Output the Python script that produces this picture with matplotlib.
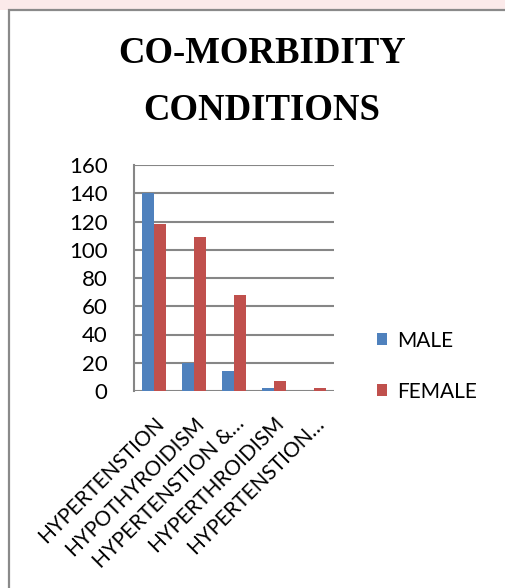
import matplotlib.pyplot as plt
from matplotlib.patches import Rectangle
import numpy as np

categories = ["HYPERTENSTION", "HYPOTHYROIDISM", "HYPERTENSTION &\u2026",
              "HYPERTHROIDISM", "HYPERTENSTION\u2026"]
male = [140, 20, 14, 2, 0]
female = [118, 109, 68, 7, 2]
y_ticks = [0, 20, 40, 60, 80, 100, 120, 140, 160]

W, H = 505, 588
fig = plt.figure(figsize=(W / 100, H / 100), dpi=100)
fig.patch.set_facecolor("white")

# faint band above the chart frame, and the frame itself
fig.patches.append(Rectangle((0, 1 - 10 / H), 1, 10 / H, transform=fig.transFigure,
                             facecolor="#fbeaea", edgecolor="none", zorder=-2))
fig.patches.append(Rectangle((9 / W, -0.1), 1.2, 1.1 - 10 / H, transform=fig.transFigure,
                             facecolor="white", edgecolor="#8a8a8a", linewidth=1.6, zorder=-1))

ax = fig.add_axes([134 / W, 1 - 391 / H, 200 / W, 226 / H])
ax.set_zorder(2)
ax.set_facecolor("none")
x = np.arange(len(categories))
bw = 0.29
ax.bar(x - bw / 2, male, bw, color="#4F81BD", label="MALE", zorder=3)
ax.bar(x + bw / 2, female, bw, color="#C0504D", label="FEMALE", zorder=3)

ax.set_xlim(-0.5, len(categories) - 0.5)
ax.set_ylim(0, 160)
ax.set_yticks(y_ticks)
ax.set_axisbelow(True)
ax.yaxis.grid(True, color="#868686", linewidth=1.5)
for s in ["top", "right", "bottom"]:
    ax.spines[s].set_visible(False)
ax.spines["left"].set_color("#868686")
ax.spines["left"].set_linewidth(1.5)
ax.tick_params(axis="y", length=0, pad=19, labelsize=16)
ax.tick_params(axis="x", length=0, pad=16, labelsize=15)
ax.set_xticks(x)
ax.set_xticklabels(categories, rotation=45, ha="right", rotation_mode="anchor")
for lab in ax.get_xticklabels() + ax.get_yticklabels():
    lab.set_family("Lato")

fig.text(262 / W, 1 - 82 / H, "CO-MORBIDITY\nCONDITIONS", ha="center", va="center",
         family="Liberation Serif", weight="bold", fontsize=26.5, linespacing=1.85)

leg = ax.legend(loc="center left", bbox_to_anchor=(1.12, 0.11), frameon=False,
                handlelength=0.5, handleheight=0.5, handletextpad=0.5,
                labelspacing=1.5, prop={"family": "Lato", "size": 15})

fig.savefig("out.png", dpi=100)
